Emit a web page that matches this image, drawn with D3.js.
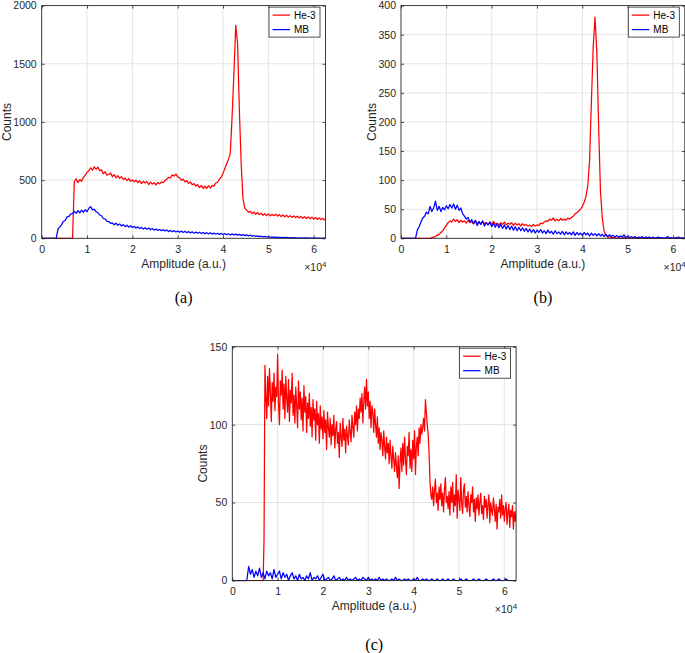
<!DOCTYPE html>
<html>
<head>
<meta charset="utf-8">
<script src="https://cdn.jsdelivr.net/npm/d3@7"></script>
<style>
  body { margin: 0; background: #fff; }
  svg { display: block; font-family: "Liberation Sans", Arial, sans-serif; }
</style>
</head>
<body>
<svg id="fig" width="685" height="653"></svg>
<script>
// histogram bins: counts per bin, bin i sits at amplitude i * bin width
var binWidth = 400;
var binWidthFine = 200;   // He-3 in (c) is read at a finer step
var xMax = 62600;
var xTickValues = [0, 10000, 20000, 30000, 40000, 50000, 60000];
var seriesNames = ["He-3", "MB"];
var seriesColors = ["#ff0000", "#0000ff"];

var yTicksA = [0, 500, 1000, 1500, 2000];
var yTicksB = [0, 50, 100, 150, 200, 250, 300, 350, 400];
var yTicksC = [0, 50, 100, 150];

// (a)
var he3A = [
  0,0,0,0,0,0,0,0,0,0,
  0,0,0,0,0,0,0,0,488,512,
  478,505,490,526,540,568,580,606,585,615,
  592,612,580,588,555,572,542,550,560,530,
  548,520,538,515,530,505,518,496,514,490,
  502,486,498,478,495,470,490,476,488,462,
  482,466,478,458,480,468,484,478,498,508,
  525,518,545,535,552,528,520,500,508,485,
  495,472,485,460,470,448,462,435,455,428,
  448,430,452,432,455,448,475,482,510,525,
  560,600,640,680,730,1050,1420,1830,1680,1100,
  640,340,260,242,225,232,212,226,206,222,
  204,215,198,212,195,210,192,206,194,208,
  190,204,186,200,184,198,182,195,180,192,
  178,190,176,188,172,186,170,184,168,182,
  166,180,162,176,160,172,158,170
];
var mbA = [
  0,0,0,0,0,0,0,0,0,80,
  98,118,145,155,184,188,210,212,232,214,
  238,218,242,224,246,228,258,272,244,250,
  228,220,200,194,170,166,146,144,128,132,
  116,130,112,124,106,118,100,112,96,108,
  92,102,88,98,84,94,80,90,78,88,
  74,84,70,80,68,76,66,74,62,72,
  58,68,56,66,54,63,52,62,50,60,
  48,58,46,56,44,53,43,52,41,50,
  40,48,38,47,36,45,35,44,33,42,
  32,41,31,39,29,38,28,36,27,34,
  25,32,23,30,21,28,19,24,17,21,
  15,18,13,16,11,14,9,12,8,10,
  7,9,6,8,5,7,4,6,3,5,
  3,4,2,4,2,3,1,3,1,2,
  1,2,1,1,0,1,1,1
];

// (b)
var he3B = [
  0,0,0,0,0,0,0,0,0,0,
  0,0,0,0,0,0,0,1,2,3,
  5,7,10,13,18,22,27,30,28,33,
  29,32,27,31,28,30,26,31,27,29,
  25,30,26,28,24,29,25,27,23,28,
  24,29,24,26,23,27,24,28,23,26,
  24,27,22,26,23,25,21,25,22,24,
  21,23,20,24,21,23,22,26,25,28,
  30,29,33,31,35,30,33,30,34,31,
  33,31,35,33,36,38,42,44,47,50,
  55,62,72,90,135,235,330,380,320,190,
  80,35,12,5,2,2,1,1,1,0,
  1,0,0,1,0,0,1,0,0,0,
  1,0,0,0,1,0,0,0,0,1,
  0,0,0,1,0,0,0,0,1,0,
  0,0,1,0,0,0,0,0
];
var mbB = [
  0,0,0,0,0,0,0,0,0,14,
  20,28,35,38,45,42,55,46,52,64,
  48,55,46,53,49,56,51,58,52,59,
  50,57,48,52,42,38,33,36,28,32,
  25,31,22,29,24,30,21,27,23,28,
  20,26,19,25,18,24,17,23,16,22,
  15,21,14,20,13,19,13,18,12,17,
  11,16,10,15,9,14,10,15,9,13,
  8,14,9,12,7,13,8,11,7,12,
  6,11,7,10,6,11,5,10,6,9,
  5,10,6,9,4,9,5,8,4,8,
  4,7,3,7,3,6,3,5,2,5,
  2,4,2,6,1,4,1,3,1,3,
  0,2,1,3,0,2,1,2,0,2,
  0,1,2,0,1,0,1,3,0,1,
  0,1,0,2,0,1,0,1
];

// (c)  He-3 at 200 per bin
var he3C = [
  0,0,0,0,0,0,0,0,0,0,
  0,0,0,0,0,0,0,0,0,0,
  0,0,0,0,0,0,0,0,0,0,
  0,0,0,0,0,26,138,118,104,131,
  112,136,121,102,127,115,133,109,124,118,
  145,113,100,128,119,135,110,126,104,131,
  117,108,129,102,122,114,133,106,119,101,
  124,112,98,128,110,121,103,117,96,125,
  108,118,95,114,104,120,99,111,92,116,
  103,110,90,115,100,107,88,112,97,105,
  91,109,95,103,84,108,98,92,104,87,
  100,93,106,85,97,102,88,95,79,101,
  92,86,104,90,97,82,99,93,87,103,
  95,89,106,98,92,108,100,112,96,110,
  104,117,108,120,101,115,124,110,129,112,
  121,104,115,98,112,108,95,110,100,92,
  105,88,98,84,95,90,80,96,86,78,
  92,82,88,75,90,80,72,86,78,70,
  82,74,66,80,59,76,85,70,88,74,
  92,78,68,86,80,95,72,84,70,90,
  78,96,68,86,92,80,98,88,100,94,
  98,104,96,116,108,100,94,82,64,55,
  52,60,48,58,65,50,56,45,60,52,
  62,48,56,44,58,66,50,54,46,57,
  42,60,50,63,44,55,48,68,40,58,
  52,45,66,50,43,58,62,47,54,44,
  57,48,41,55,50,60,44,52,38,53,
  46,55,42,50,56,43,48,39,54,47,
  52,40,49,55,37,50,45,42,53,46,
  38,49,33,47,44,52,40,55,42,48,
  38,46,50,36,44,49,34,45,41,48,
  33,44,38,45
];
var mbC = [
  0,0,0,0,0,0,0,0,0,9,
  4,7,2,6,3,8,2,5,1,6,
  3,5,1,7,2,4,6,1,5,2,
  4,0,3,5,1,3,0,4,1,2,
  0,3,1,5,0,2,1,3,0,2,
  4,0,1,2,0,1,3,0,1,2,
  0,1,0,2,0,1,0,1,2,0,
  1,0,2,1,0,2,0,1,0,1,
  0,2,0,1,0,1,0,0,1,0,
  2,0,1,0,0,1,0,1,0,0,
  1,0,2,0,0,1,0,1,0,0,
  1,0,0,1,0,0,1,0,0,1,
  0,0,1,0,0,0,1,0,0,1,
  0,0,0,1,0,0,1,0,0,0,
  1,0,0,0,1,0,0,1,0,0,
  0,1,0,0,0,0,0,0
];

var plotW = 283.8;
var panels = [
  {id: "a", left: 41.7, top: 5.6, h: 232.7, yTicks: yTicksA, series: [he3A, mbA], steps: [binWidth, binWidth], caption: "(a)", labelOff: -31, capY: 303},
  {id: "b", left: 401, top: 5.6, h: 232.7, yTicks: yTicksB, series: [he3B, mbB], steps: [binWidth, binWidth], caption: "(b)", labelOff: -25, capY: 303},
  {id: "c", left: 232.3, top: 346.7, h: 233.8, yTicks: yTicksC, series: [he3C, mbC], steps: [binWidthFine, binWidth], caption: "(c)", labelOff: -25, capY: 650}
];

var svg = d3.select("#fig");
var ink = "#262626";

panels.forEach(function (p) {
  var plotH = p.h;
  var g = svg.append("g")
    .attr("transform", "translate(" + p.left + "," + p.top + ")");

  var x = d3.scaleLinear().domain([0, xMax]).range([0, plotW]);
  var y = d3.scaleLinear().domain([0, p.yTicks[p.yTicks.length - 1]]).range([plotH, 0]);

  g.append("rect")
    .attr("width", plotW).attr("height", plotH)
    .attr("fill", "#fff");

  // grid
  g.append("g").selectAll("line")
    .data(xTickValues.slice(1))
    .enter().append("line")
    .attr("x1", function (d) { return x(d); })
    .attr("x2", function (d) { return x(d); })
    .attr("y1", 0).attr("y2", plotH)
    .attr("stroke", "#e4e4e4").attr("stroke-width", 1);
  g.append("g").selectAll("line")
    .data(p.yTicks.slice(1, -1))
    .enter().append("line")
    .attr("y1", function (d) { return y(d); })
    .attr("y2", function (d) { return y(d); })
    .attr("x1", 0).attr("x2", plotW)
    .attr("stroke", "#e4e4e4").attr("stroke-width", 1);

  // curves (He-3 first, MB drawn on top)
  g.append("clipPath").attr("id", "clip-" + p.id)
    .append("rect").attr("width", plotW).attr("height", plotH + 1);

  p.series.forEach(function (s, k) {
    var step = p.steps[k];
    var line = d3.line()
      .x(function (d, i) { return x(i * step); })
      .y(function (d) { return y(d); });
    g.append("path")
      .datum(s)
      .attr("clip-path", "url(#clip-" + p.id + ")")
      .attr("fill", "none")
      .attr("stroke", seriesColors[k])
      .attr("stroke-width", 1.25)
      .attr("stroke-linejoin", "round")
      .attr("d", line);
  });

  // axes, ticks inside like matlab
  g.append("g")
    .attr("transform", "translate(0," + plotH + ")")
    .call(d3.axisBottom(x).tickValues(xTickValues).tickSize(-3).tickPadding(7)
      .tickFormat(function (d) { return d / 10000; }));
  g.append("g")
    .call(d3.axisLeft(y).tickValues(p.yTicks).tickSize(-3).tickPadding(5)
      .tickFormat(d3.format("d")));
  g.append("g")
    .call(d3.axisTop(x).tickValues(xTickValues).tickSize(-3).tickFormat(""));
  g.append("g")
    .attr("transform", "translate(" + plotW + ",0)")
    .call(d3.axisRight(y).tickValues(p.yTicks).tickSize(-3).tickFormat(""));

  g.selectAll(".domain").remove();
  g.selectAll(".tick line").attr("stroke", ink).attr("stroke-width", 0.8);
  g.selectAll(".tick text")
    .attr("fill", ink)
    .style("font-size", "10.5px")
    .style("font-family", "'Liberation Sans', Arial, sans-serif");

  g.append("rect")
    .attr("width", plotW).attr("height", plotH)
    .attr("fill", "none")
    .attr("stroke", ink).attr("stroke-width", 0.9);

  // labels
  g.append("text")
    .attr("x", plotW / 2)
    .attr("y", plotH + 30)
    .attr("text-anchor", "middle")
    .attr("fill", ink)
    .style("font-size", "12px")
    .text("Amplitude (a.u.)");

  var mult = g.append("text")
    .attr("x", plotW + 1)
    .attr("y", plotH + 33)
    .attr("text-anchor", "end")
    .attr("fill", ink)
    .style("font-size", "10.5px");
  mult.append("tspan").text("\u00d710");
  mult.append("tspan").attr("dy", -4).style("font-size", "8px").text("4");

  g.append("text")
    .attr("transform", "translate(" + p.labelOff + "," + (plotH / 2) + ") rotate(-90)")
    .attr("text-anchor", "middle")
    .attr("fill", ink)
    .style("font-size", "12px")
    .text("Counts");

  // legend
  var lg = g.append("g")
    .attr("transform", "translate(" + (plotW - 56.5) + ",1.5)");
  lg.append("rect")
    .attr("width", 51).attr("height", 30)
    .attr("fill", "#fff")
    .attr("stroke", ink).attr("stroke-width", 0.8);
  seriesNames.forEach(function (name, k) {
    var ry = 8 + k * 14.5;
    lg.append("line")
      .attr("x1", 3.5).attr("x2", 21)
      .attr("y1", ry).attr("y2", ry)
      .attr("stroke", seriesColors[k]).attr("stroke-width", 1.25);
    lg.append("text")
      .attr("x", 25).attr("y", ry)
      .attr("dy", "0.35em")
      .attr("fill", "#000")
      .style("font-size", "10px")
      .text(name);
  });

  // caption
  svg.append("text")
    .attr("x", p.left + plotW / 2)
    .attr("y", p.capY)
    .attr("text-anchor", "middle")
    .attr("fill", "#000")
    .style("font-family", "'Liberation Serif', 'DejaVu Serif', serif")
    .style("font-size", "16px")
    .text(p.caption);
});
</script>
</body>
</html>
